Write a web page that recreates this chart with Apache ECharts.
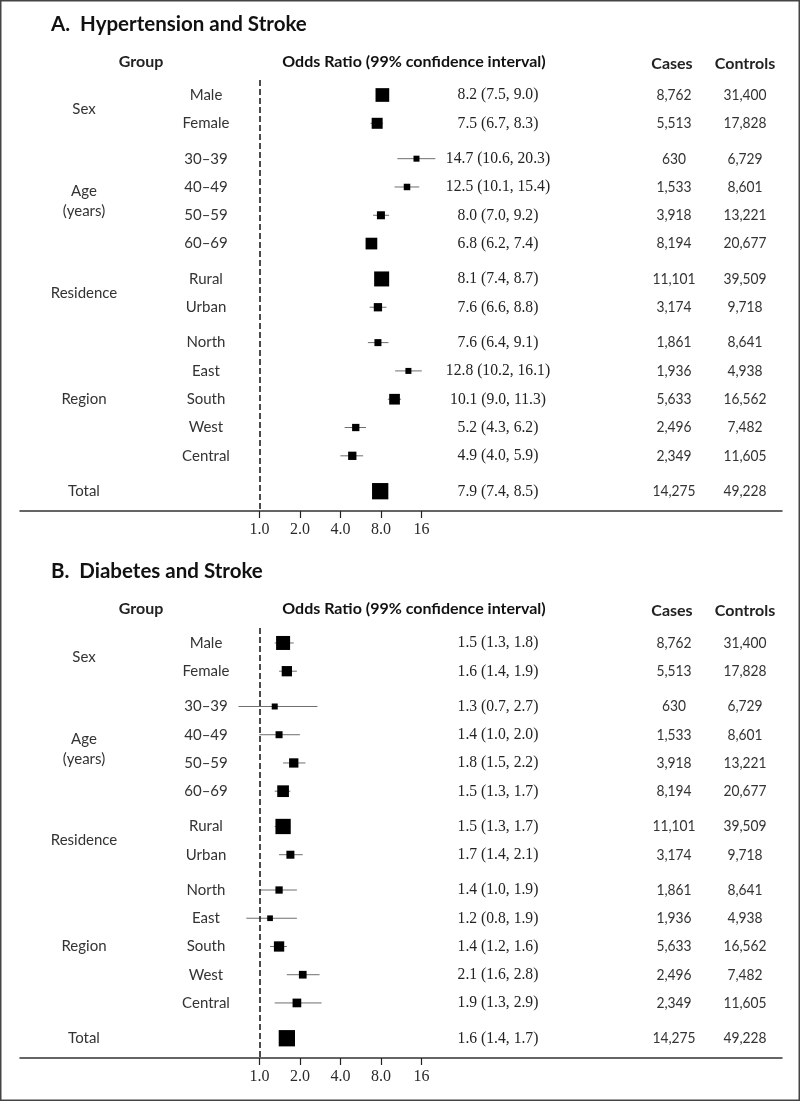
<!DOCTYPE html>
<html><head><meta charset="utf-8">
<script src="https://cdn.jsdelivr.net/npm/echarts@6/dist/echarts.min.js"></script>
<style>html,body{margin:0;padding:0;background:#fff}#c{width:800px;height:1101px}</style>
</head><body><div id="c"></div>
<script>
// ---------- data ----------
const titles = ['A.  Hypertension and Stroke', 'B.  Diabetes and Stroke'];
const headers = ['Group', 'Odds Ratio (99% confidence interval)', 'Cases', 'Controls'];
const subgroups = ['Male','Female','30–39','40–49','50–59','60–69','Rural','Urban','North','East','South','West','Central',''];
const groupNames = ['Sex', 'Age\n(years)', 'Residence', 'Region', 'Total'];
const rowGroup = [0,0,1,1,1,1,2,2,3,3,3,3,3,4];

const orA = [8.2,7.5,14.7,12.5,8.0,6.8,8.1,7.6,7.6,12.8,10.1,5.2,4.9,7.9];
const loA = [7.5,6.7,10.6,10.1,7.0,6.2,7.4,6.6,6.4,10.2,9.0,4.3,4.0,7.4];
const hiA = [9.0,8.3,20.3,15.4,9.2,7.4,8.7,8.8,9.1,16.1,11.3,6.2,5.9,8.5];
const weightA = [13.7,11,6,6.5,8,11.7,15,8.3,7,6,10.7,7.3,8.3,16.3];

const orB = [1.5,1.6,1.3,1.4,1.8,1.5,1.5,1.7,1.4,1.2,1.4,2.1,1.9,1.6];
const loB = [1.3,1.4,0.7,1.0,1.5,1.3,1.3,1.4,1.0,0.8,1.2,1.6,1.3,1.4];
const hiB = [1.8,1.9,2.7,2.0,2.2,1.7,1.7,2.1,1.9,1.9,1.6,2.8,2.9,1.7];
const weightB = [14,10.3,6,7,9.3,11.7,15.3,8,7.3,5.7,10.3,7.7,8.7,16.3];

const cases = [8762,5513,630,1533,3918,8194,11101,3174,1861,1936,5633,2496,2349,14275];
const controls = [31400,17828,6729,8601,13221,20677,39509,9718,8641,4938,16562,7482,11605,49228];

const tickValues = [1, 2, 4, 8, 16];
const tickLabels = ['1.0', '2.0', '4.0', '8.0', '16'];

// ---------- layout ----------
const rowPos = subgroups.map((s, i) => i + 0.25 * rowGroup[i]);
const panels = [
  {top: 80, height: 431, titleY: 24, headerY: 62, or: orA, lo: loA, hi: hiA, w: weightA},
  {top: 628, height: 430, titleY: 571, headerY: 609, or: orB, lo: loB, hi: hiB, w: weightB}
];
const xMin = Math.pow(2, -5.909), xMax = Math.pow(2, 12.9);
const COL = {group: 84, sub: 206, or: 498, cases: 674, controls: 745};
const SANS = 'Lato', SERIF = 'Liberation Serif';

const chart = echarts.init(document.getElementById('c'), null, {renderer: 'canvas'});

const grids = [], xAxes = [], yAxes = [], series = [];
panels.forEach((p, k) => {
  grids.push({left: 20, right: 18, top: p.top, height: p.height});
  xAxes.push({
    type: 'log', logBase: 2, gridIndex: k, min: xMin, max: xMax,
    splitLine: {show: false},
    axisLine: {onZero: false, lineStyle: {color: '#333', width: 1.5}},
    axisTick: {customValues: tickValues, length: 7, lineStyle: {color: '#222', width: 1.2}},
    axisLabel: {customValues: tickValues, margin: 11, color: '#2a2a2a',
      fontFamily: SERIF, fontSize: 16,
      formatter: v => tickLabels[tickValues.indexOf(Math.round(v))] || ''}
  });
  yAxes.push({type: 'value', gridIndex: k, inverse: true, min: -0.53, max: 14.7, show: false});
  series.push({
    type: 'custom', xAxisIndex: k, yAxisIndex: k, z: 2,
    data: subgroups.map((s, i) => [p.lo[i], p.hi[i], rowPos[i]]),
    encode: {x: [0, 1], y: 2},
    renderItem: (params, api) => {
      const a = api.coord([api.value(0), api.value(2)]);
      const b = api.coord([api.value(1), api.value(2)]);
      return {type: 'line', shape: {x1: a[0], y1: a[1], x2: b[0], y2: b[1]},
        style: {stroke: '#6e6e6e', lineWidth: 1}};
    }
  });
  series.push({
    type: 'scatter', xAxisIndex: k, yAxisIndex: k, z: 3,
    symbol: 'rect',
    symbolSize: (v, prm) => p.w[prm.dataIndex],
    itemStyle: {color: '#000', opacity: 1},
    data: subgroups.map((s, i) => [p.or[i], rowPos[i]]),
    markLine: {
      silent: true, symbol: ['none', 'none'], label: {show: false},
      lineStyle: {type: [6, 3], color: '#111', width: 1.5},
      data: [{xAxis: 1}]
    }
  });
});

chart.setOption({
  animation: false,
  backgroundColor: '#fff',
  grid: grids, xAxis: xAxes, yAxis: yAxes, series: series
});

// ---------- texts ----------
const g = [];
g.push({type: 'rect', shape: {x: 0.75, y: 0.75, width: 798.5, height: 1099.5},
  style: {fill: 'none', stroke: '#444', lineWidth: 1.5}, silent: true});
function txt(x, y, text, font, opts) {
  opts = opts || {};
  g.push({type: 'text', x: x, y: y, scaleX: opts.sx || 1, silent: true,
    style: {text: text, font: font, fill: opts.fill || '#1a1a1a',
      textAlign: opts.align || 'center', textVerticalAlign: 'middle',
      align: opts.align || 'center', verticalAlign: 'middle', lineHeight: opts.lh || 20}});
}
const fmt = n => n.toLocaleString('en-US');
panels.forEach((p, k) => {
  txt(51, p.titleY, titles[k], 'bold 20.5px ' + SANS, {align: 'left', fill: '#111'});
  txt(141, p.headerY, headers[0], 'bold 16px ' + SANS, {fill: '#222'});
  txt(414, p.headerY, headers[1], 'bold 16px ' + SANS, {fill: '#111'});
  txt(COL.cases - 2, p.headerY + 2, headers[2], 'bold 16px ' + SANS, {fill: '#222'});
  txt(COL.controls, p.headerY + 2, headers[3], 'bold 16px ' + SANS, {fill: '#222'});
  const ypx = rowPos.map(r => chart.convertToPixel({gridIndex: k}, [1, r])[1]);
  subgroups.forEach((s, i) => {
    const y = ypx[i];
    if (s) txt(COL.sub, y, s, '15px ' + SANS, {fill: '#333'});
    txt(COL.or, y, p.or[i].toFixed(1) + ' (' + p.lo[i].toFixed(1) + ', ' + p.hi[i].toFixed(1) + ')',
      '17px ' + SERIF, {sx: 0.92, fill: '#222'});
    txt(COL.cases, y, fmt(cases[i]), '15px ' + SANS, {sx: 0.92, fill: '#333'});
    txt(COL.controls, y, fmt(controls[i]), '15px ' + SANS, {sx: 0.92, fill: '#333'});
  });
  groupNames.forEach((name, gi) => {
    const idx = rowGroup.map((v, i) => v === gi ? i : -1).filter(i => i >= 0);
    const y = (ypx[idx[0]] + ypx[idx[idx.length - 1]]) / 2;
    txt(COL.group, y, name, '15px ' + SANS, {fill: '#333', lh: 20});
  });
});
chart.setOption({graphic: {elements: g}});
</script></body></html>
